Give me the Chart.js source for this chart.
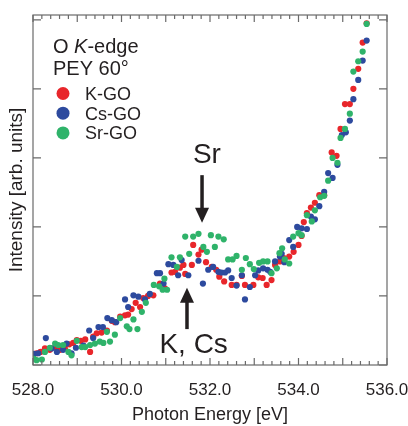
<!DOCTYPE html>
<html>
<head>
<meta charset="utf-8">
<script src="https://cdn.jsdelivr.net/npm/chart.js@4/dist/chart.umd.min.js"></script>
<style>
  html, body { margin: 0; padding: 0; background: #fff; }
  canvas { display: block; }
</style>
</head>
<body>
<canvas id="xas-chart" width="408" height="426"></canvas>
<script>
// O K-edge spectra (PEY 60 deg), intensity in arb. units
const kEnergy = [528.08, 528.17, 528.27, 528.38, 528.50, 528.61, 528.72, 528.82, 528.91, 528.99,
  529.08, 529.18, 529.29, 529.36, 529.44, 529.55, 529.67, 529.78, 529.85, 529.97,
  530.08, 530.15, 530.23, 530.32, 530.42, 530.49, 530.60, 530.72, 530.87, 530.98,
  531.13, 531.21, 531.32, 531.40, 531.44, 531.59, 531.62, 531.74, 531.81, 531.91,
  532.04, 532.14, 532.21, 532.32, 532.49, 532.60, 532.72, 532.79, 532.98, 533.09,
  533.19, 533.28, 533.39, 533.47, 533.58, 533.67, 533.79, 533.89, 534.00, 534.07,
  534.12, 534.19, 534.28, 534.37, 534.47, 534.58, 534.75, 534.86, 534.95, 535.05,
  535.16, 535.24, 535.35, 535.45, 535.54];
const kIntensity = [0.17, 0.19, 0.24, 0.22, 0.26, 0.22, 0.24, 0.30, 0.32, 0.36,
  0.35, 0.37, 0.19, 0.41, 0.46, 0.47, 0.50, 0.64, 0.62, 0.70,
  0.72, 0.73, 0.81, 0.90, 0.84, 0.97, 1.00, 1.01, 1.18, 1.11,
  1.34, 1.35, 1.41, 1.45, 1.32, 1.45, 1.74, 1.60, 1.67, 1.49,
  1.42, 1.38, 1.28, 1.21, 1.16, 1.16, 1.29, 1.16, 1.16, 1.27,
  1.26, 1.16, 1.23, 1.45, 1.50, 1.55, 1.57, 1.64, 1.74, 1.87,
  2.07, 2.20, 2.28, 2.35, 2.46, 2.46, 3.08, 3.03, 3.42, 3.78,
  3.78, 4.00, 4.29, 4.67, 4.95];

const csEnergy = [528.02, 528.12, 528.29, 528.42, 528.54, 528.68, 528.76, 528.87, 528.97, 529.14,
  529.27, 529.36, 529.48, 529.58, 529.68, 529.78, 529.88, 530.08, 530.15, 530.27,
  530.38, 530.53, 530.64, 530.80, 530.87, 530.95, 531.06, 531.17, 531.28, 531.36,
  531.51, 531.74, 531.84, 531.96, 532.07, 532.19, 532.26, 532.34, 532.41, 532.49,
  532.60, 532.72, 532.79, 532.90, 533.02, 533.09, 533.20, 533.30, 533.36, 533.47,
  533.58, 533.62, 533.68, 533.79, 533.88, 533.97, 534.07, 534.19, 534.28, 534.37,
  534.47, 534.58, 534.67, 534.77, 534.88, 534.98, 535.07, 535.16, 535.24, 535.35,
  535.45, 535.54];
const csIntensity = [0.16, 0.17, 0.39, 0.24, 0.19, 0.22, 0.31, 0.17, 0.25, 0.28,
  0.50, 0.39, 0.55, 0.55, 0.68, 0.65, 0.62, 0.95, 0.84, 1.01,
  0.99, 0.95, 1.03, 1.33, 1.33, 1.18, 1.46, 1.45, 1.30, 1.52,
  1.30, 1.51, 1.18, 1.38, 1.42, 1.35, 1.34, 1.34, 1.37, 1.26,
  1.15, 1.30, 0.95, 1.13, 1.30, 1.37, 1.40, 1.38, 1.35, 1.50,
  1.57, 1.61, 1.49, 1.81, 1.71, 2.00, 1.98, 1.97, 2.15, 2.11,
  2.30, 2.51, 2.78, 2.71, 2.90, 3.33, 3.37, 3.54, 3.85, 4.13,
  4.41, 4.70];

const srEnergy = [528.02, 528.08, 528.20, 528.27, 528.38, 528.50, 528.57, 528.68, 528.80, 528.87,
  528.99, 529.10, 529.18, 529.29, 529.40, 529.51, 529.59, 529.67, 529.74, 529.85,
  529.97, 530.12, 530.18, 530.27, 530.36, 530.46, 530.55, 530.73, 530.85, 530.93,
  530.97, 531.03, 531.13, 531.25, 531.32, 531.44, 531.53, 531.62, 531.74, 531.85,
  531.93, 532.02, 532.11, 532.19, 532.31, 532.41, 532.51, 532.60, 532.72, 532.81,
  532.90, 532.99, 533.11, 533.20, 533.30, 533.39, 533.51, 533.57, 533.63, 533.69,
  533.79, 533.88, 534.00, 534.07, 534.19, 534.30, 534.37, 534.49, 534.58, 534.67,
  534.77, 534.88, 534.95, 535.05, 535.16, 535.24, 535.35, 535.45, 535.54];
const srIntensity = [0.09, 0.07, 0.08, 0.19, 0.25, 0.31, 0.29, 0.29, 0.19, 0.14,
  0.35, 0.26, 0.26, 0.29, 0.31, 0.34, 0.32, 0.48, 0.34, 0.44,
  0.68, 0.56, 0.52, 0.66, 0.52, 0.77, 0.90, 1.16, 1.14, 1.09,
  1.25, 1.09, 1.56, 1.42, 1.56, 1.86, 1.61, 1.86, 1.90, 1.71,
  1.64, 1.88, 1.71, 1.86, 1.82, 1.53, 1.53, 1.58, 1.38, 1.55,
  1.46, 1.39, 1.48, 1.50, 1.50, 1.33, 1.40, 1.62, 1.69, 1.53,
  1.47, 1.86, 1.91, 1.88, 2.17, 2.08, 2.24, 2.43, 2.45, 2.67,
  3.00, 2.93, 3.29, 3.42, 3.64, 4.25, 4.40, 4.54, 4.94];

const seriesNames = ['K-GO', 'Cs-GO', 'Sr-GO'];
const seriesColors = ['#e8262b', '#2d4a9e', '#2fb36a'];
const energyTicks = [528, 530, 532, 534, 536];
const intensityTicks = [0, 1, 2, 3, 4, 5];

const FONT = '"Liberation Sans", Arial, sans-serif';
const INK = '#231f20';

function toPoints(xs, ys) {
  return xs.map((x, i) => ({ x: x, y: ys[i] }));
}

// frame with inward ticks on all four sides
const frameTicks = {
  id: 'frameTicks',
  afterDatasetsDraw(chart) {
    const ctx = chart.ctx;
    const a = chart.chartArea;
    const xs = chart.scales.x;
    const ys = chart.scales.y;
    ctx.save();
    ctx.strokeStyle = '#6a6a6a';
    ctx.lineWidth = 1.2;
    ctx.strokeRect(a.left, a.top, a.right - a.left, a.bottom - a.top);
    ctx.beginPath();
    for (let k = 0; k <= 40; k++) {
      const v = 528 + k * 0.2;
      const px = xs.getPixelForValue(v);
      const len = (k % 5 === 0) ? 7 : 4;
      ctx.moveTo(px, a.bottom); ctx.lineTo(px, a.bottom - len);
      ctx.moveTo(px, a.top); ctx.lineTo(px, a.top + len);
    }
    intensityTicks.forEach(v => {
      const py = ys.getPixelForValue(v);
      ctx.moveTo(a.left, py); ctx.lineTo(a.left + 8, py);
      ctx.moveTo(a.right, py); ctx.lineTo(a.right - 8, py);
    });
    ctx.stroke();
    ctx.restore();
  }
};

function arrow(ctx, x, y0, y1) {
  // shaft from y0 to the head, tip at y1
  const dir = y1 > y0 ? 1 : -1;
  const headLen = 15, headHalf = 7;
  ctx.beginPath();
  ctx.lineWidth = 3.5;
  ctx.moveTo(x, y0);
  ctx.lineTo(x, y1 - dir * headLen + dir * 2);
  ctx.stroke();
  ctx.beginPath();
  ctx.moveTo(x, y1);
  ctx.lineTo(x - headHalf, y1 - dir * headLen);
  ctx.lineTo(x + headHalf, y1 - dir * headLen);
  ctx.closePath();
  ctx.fill();
}

// labels + arrows, legend block
const notes = {
  id: 'notes',
  afterDraw(chart) {
    const ctx = chart.ctx;
    const xs = chart.scales.x;
    const ys = chart.scales.y;
    ctx.save();
    ctx.fillStyle = INK;
    ctx.strokeStyle = INK;

    ctx.font = '28px ' + FONT;
    ctx.textAlign = 'center';
    ctx.textBaseline = 'alphabetic';
    ctx.fillText('Sr', xs.getPixelForValue(531.93), ys.getPixelForValue(2.93));
    arrow(ctx, xs.getPixelForValue(531.82), ys.getPixelForValue(2.75), ys.getPixelForValue(2.06));
    ctx.fillText('K, Cs', xs.getPixelForValue(531.63), ys.getPixelForValue(0.17));
    arrow(ctx, xs.getPixelForValue(531.48), ys.getPixelForValue(0.52), ys.getPixelForValue(1.12));

    // legend
    ctx.textAlign = 'left';
    let x = 53;
    ctx.font = '20px ' + FONT;
    ctx.fillText('O ', x, 53);
    x += ctx.measureText('O ').width;
    ctx.font = 'italic 20px ' + FONT;
    ctx.fillText('K', x, 53);
    x += ctx.measureText('K').width;
    ctx.font = '20px ' + FONT;
    ctx.fillText('-edge', x, 53);
    ctx.fillText('PEY 60\u00b0', 53, 75);

    ctx.font = '18px ' + FONT;
    chart.data.datasets.forEach((ds, i) => {
      const base = 100 + i * 19.7;
      ctx.fillStyle = ds.backgroundColor;
      ctx.beginPath();
      ctx.arc(63, base - 6.5, 6.5, 0, Math.PI * 2);
      ctx.fill();
      ctx.fillStyle = INK;
      ctx.fillText(ds.label, 85, base);
    });
    ctx.restore();
  }
};

const ctx = document.getElementById('xas-chart').getContext('2d');
const spectra = [
  toPoints(kEnergy, kIntensity),
  toPoints(csEnergy, csIntensity),
  toPoints(srEnergy, srIntensity)
];

const chart = new Chart(ctx, {
  type: 'scatter',
  data: {
    datasets: spectra.map((pts, i) => ({
      label: seriesNames[i],
      data: pts,
      backgroundColor: seriesColors[i],
      borderColor: seriesColors[i],
      pointRadius: 3.1,
      pointBorderWidth: 0,
      pointHoverRadius: 3.1,
      order: 2 - i
    }))
  },
  options: {
    responsive: false,
    animation: false,
    events: [],
    layout: { padding: { top: 15, right: 21, left: 0, bottom: 0 } },
    plugins: {
      legend: { display: false },
      tooltip: { enabled: false }
    },
    scales: {
      x: {
        type: 'linear',
        min: 528,
        max: 536,
        afterBuildTicks: s => { s.ticks = energyTicks.map(v => ({ value: v })); },
        afterFit: s => { s.height = 61; s.paddingLeft = 0; s.paddingRight = 0; },
        grid: { display: false },
        border: { display: false },
        ticks: {
          padding: 7,
          color: INK,
          font: { family: FONT, size: 17 },
          maxRotation: 0,
          autoSkip: false,
          callback: v => Number(v).toFixed(1)
        },
        title: {
          display: true,
          text: 'Photon Energy [eV]',
          color: INK,
          font: { family: FONT, size: 18 },
          padding: { top: 0, bottom: 0 }
        }
      },
      y: {
        type: 'linear',
        min: 0,
        max: 5.07,
        afterFit: s => { s.width = 33; },
        grid: { display: false },
        border: { display: false },
        ticks: { display: false },
        title: {
          display: true,
          text: 'Intensity [arb. units]',
          color: INK,
          font: { family: FONT, size: 19 },
          padding: { top: 5, bottom: 0 }
        }
      }
    }
  },
  plugins: [frameTicks, notes]
});
</script>
</body>
</html>
